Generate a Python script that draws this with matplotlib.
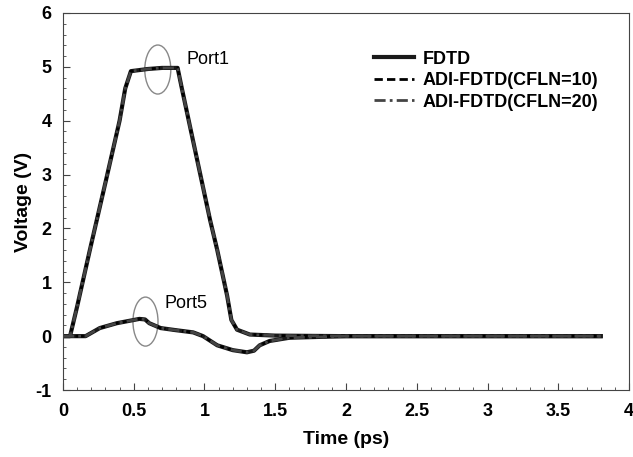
import matplotlib.pyplot as plt
from matplotlib.patches import Ellipse
from matplotlib.ticker import MultipleLocator, FormatStrFormatter

plt.rcParams['font.family'] = ['Liberation Sans', 'DejaVu Sans']
plt.rcParams['axes.unicode_minus'] = False

# Port1 response (ps, V)
t_p1 = [0.0, 0.05, 0.10, 0.19, 0.30, 0.40, 0.44, 0.48, 0.60, 0.70, 0.81, 0.84,
        0.95, 1.04, 1.09, 1.16, 1.19, 1.23, 1.32, 1.50, 2.00, 2.50, 3.00, 3.50, 3.80]
v_p1 = [0.0, 0.0, 0.55, 1.6, 2.85, 4.0, 4.6, 4.92, 4.96, 4.98, 4.98, 4.6,
        3.25, 2.15, 1.6, 0.75, 0.3, 0.12, 0.03, 0.01, 0.0, 0.0, 0.0, 0.0, 0.0]

# Port5 response (ps, V)
t_p5 = [0.0, 0.05, 0.16, 0.20, 0.26, 0.38, 0.48, 0.54, 0.58, 0.61, 0.69, 0.80,
        0.92, 0.99, 1.09, 1.20, 1.30, 1.35, 1.39, 1.46, 1.60, 2.00, 2.50, 3.00, 3.50, 3.80]
v_p5 = [0.0, 0.0, 0.0, 0.06, 0.15, 0.24, 0.29, 0.32, 0.31, 0.24, 0.15, 0.11,
        0.07, 0.0, -0.17, -0.26, -0.30, -0.27, -0.17, -0.09, -0.03, 0.0, 0.0, 0.0, 0.0, 0.0]

series = ['FDTD', 'ADI-FDTD(CFLN=10)', 'ADI-FDTD(CFLN=20)']

fig = plt.figure(figsize=(6.33, 4.57), dpi=100)
ax = fig.add_axes([0.0995, 0.1466, 0.8942, 0.825])

styles = [dict(color='#1a1a1a', ls='-', lw=3.0),
          dict(color='black', ls=(0, (3, 1.5)), lw=2.0),
          dict(color='#444444', ls=(0, (4, 1.5, 1, 1.5)), lw=2.0)]
for name, st in zip(series, styles):
    ax.plot(t_p1, v_p1, label=name, **st)
    ax.plot(t_p5, v_p5, **st)

ax.add_patch(Ellipse((0.67, 4.95), 0.184, 0.91, fill=False, ec='#888888', lw=1))
ax.add_patch(Ellipse((0.583, 0.27), 0.177, 0.91, fill=False, ec='#888888', lw=1))
ax.text(0.876, 5.14, 'Port1', fontsize=13, va='center', ha='left')
ax.text(0.72, 0.61, 'Port5', fontsize=13, va='center', ha='left')

ax.set_xlim(0, 4)
ax.set_ylim(-1, 6)
ax.xaxis.set_major_locator(MultipleLocator(0.5))
ax.xaxis.set_minor_locator(MultipleLocator(0.1))
ax.yaxis.set_major_locator(MultipleLocator(1))
ax.yaxis.set_minor_locator(MultipleLocator(0.2))
ax.xaxis.set_major_formatter(FormatStrFormatter('%g'))
ax.yaxis.set_major_formatter(FormatStrFormatter('%g'))
ax.tick_params(which='both', direction='in', top=False, right=False, color='#444444')
ax.tick_params(which='major', length=5, labelsize=13)
ax.tick_params(axis='x', which='major', pad=9)
ax.tick_params(axis='y', which='major', pad=8)
ax.tick_params(which='minor', length=2.5)
for lab in ax.get_xticklabels() + ax.get_yticklabels():
    lab.set_fontweight('bold')
for sp in ax.spines.values():
    sp.set_color('#444444')

ax.set_xlabel('Time (ps)', fontsize=14, fontweight='bold', labelpad=8)
ax.set_ylabel('Voltage (V)', fontsize=14, fontweight='bold', labelpad=3)

leg = ax.legend(loc='upper right', bbox_to_anchor=(0.975, 0.943), frameon=False,
                prop={'weight': 'bold', 'size': 13}, handlelength=2.2,
                labelspacing=0.25, handletextpad=0.5)

fig.savefig('out.png', dpi=100)
